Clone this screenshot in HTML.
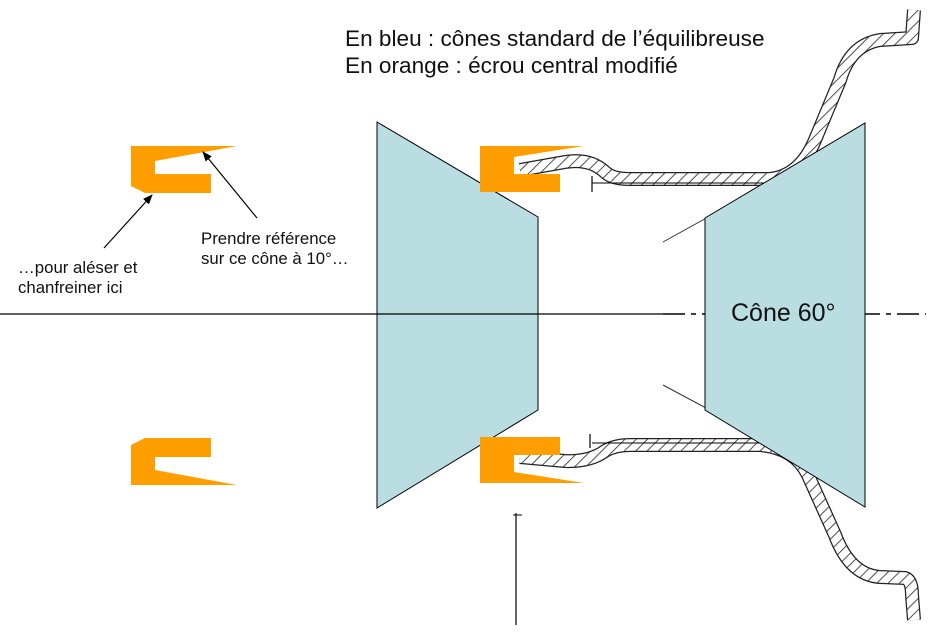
<!DOCTYPE html>
<html><head><meta charset="utf-8"><style>
html,body{margin:0;padding:0;background:#fff;}
svg{display:block;}
text{font-family:"Liberation Sans",Arial,sans-serif;fill:#111;}
</style></head><body>
<svg width="936" height="635" viewBox="0 0 936 635" xmlns="http://www.w3.org/2000/svg">
<defs>
<pattern id="h" width="8" height="8" patternUnits="userSpaceOnUse" patternTransform="rotate(45)">
<rect width="8" height="8" fill="#fff"/>
<line x1="0" y1="0" x2="0" y2="8" stroke="#222" stroke-width="1.6"/>
</pattern>
<marker id="a" markerWidth="10" markerHeight="10" refX="9" refY="5" orient="auto" markerUnits="userSpaceOnUse">
<path d="M0,1 L10,5 L0,9 Z" fill="#000"/>
</marker>
</defs>

<line x1="663" y1="314" x2="926" y2="314" stroke="#000" stroke-width="1.5" stroke-dasharray="22,6,5,6"/>

<!-- wheel top -->
<path d="M520,170 L565,162 Q590,158 605,172 Q612,179 630,179 L770,179 Q800,176 815,140 L840,80 Q850,45 880,40 L912,38 L914,10" fill="none" stroke="#222" stroke-width="14" stroke-linejoin="round"/>
<path d="M520,170 L565,162 Q590,158 605,172 Q612,179 630,179 L770,179 Q800,176 815,140 L840,80 Q850,45 880,40 L912,38 L914,10" fill="none" stroke="url(#h)" stroke-width="11.5" stroke-linejoin="round"/>
<!-- wheel bottom -->
<path d="M520,457 L565,461 Q590,462 605,451 Q615,445 630,445 L760,445 Q795,448 808,475 L835,535 Q850,575 880,577 L905,578 Q912,580 912,595 L914,620" fill="none" stroke="#222" stroke-width="14" stroke-linejoin="round"/>
<path d="M520,457 L565,461 Q590,462 605,451 Q615,445 630,445 L760,445 Q795,448 808,475 L835,535 Q850,575 880,577 L905,578 Q912,580 912,595 L914,620" fill="none" stroke="url(#h)" stroke-width="11.5" stroke-linejoin="round"/>

<line x1="592" y1="183" x2="775" y2="183" stroke="#000" stroke-width="1"/>
<line x1="592" y1="176" x2="592" y2="192" stroke="#000" stroke-width="1.2"/>
<line x1="663" y1="242" x2="775" y2="180" stroke="#333" stroke-width="1"/>
<line x1="592" y1="443" x2="775" y2="443" stroke="#000" stroke-width="1"/>
<line x1="590" y1="434" x2="590" y2="448" stroke="#000" stroke-width="1.2"/>
<line x1="663" y1="385" x2="775" y2="445" stroke="#333" stroke-width="1"/>
<line x1="516" y1="513" x2="516" y2="625" stroke="#000" stroke-width="1.2"/>
<line x1="513" y1="515" x2="522" y2="515" stroke="#000" stroke-width="1"/>

<polygon points="377,122 538,217 538,410 377,508" fill="#b9dde1" stroke="#000" stroke-width="1"/>
<polygon points="705,218 865,123 865,507 705,410" fill="#b9dde1" stroke="#000" stroke-width="1"/>

<line x1="0" y1="314" x2="663" y2="314" stroke="#000" stroke-width="1.2"/>

<g fill="#ff9e00">
<polygon points="131,146 237,146 155,161 155,174 211,174 211,193 145,193 131,186"/>
<polygon points="131,485 237,485 155,470 155,457 211,457 211,438 145,438 131,445"/>
<polygon points="480,146 584,146 514,157 514,174 560,174 560,192 480,192"/>
<polygon points="480,483 584,483 514,472 514,455 560,455 560,437 480,437"/>
</g>

<line x1="104" y1="248" x2="152" y2="195" stroke="#000" stroke-width="1.2" marker-end="url(#a)"/>
<line x1="257" y1="218" x2="203" y2="152" stroke="#000" stroke-width="1.2" marker-end="url(#a)"/>

<text x="345" y="46" font-size="22.6">En bleu : cônes standard de l’équilibreuse</text>
<text x="345" y="73" font-size="22.6">En orange : écrou central modifié</text>
<text x="201" y="244" font-size="16.8">Prendre référence</text>
<text x="201" y="264" font-size="16.8">sur ce cône à 10°…</text>
<text x="18" y="273" font-size="16.8">…pour aléser et</text>
<text x="18" y="293" font-size="16.8">chanfreiner ici</text>
<text x="731" y="321" font-size="25">Cône 60°</text>
</svg>
</body></html>
